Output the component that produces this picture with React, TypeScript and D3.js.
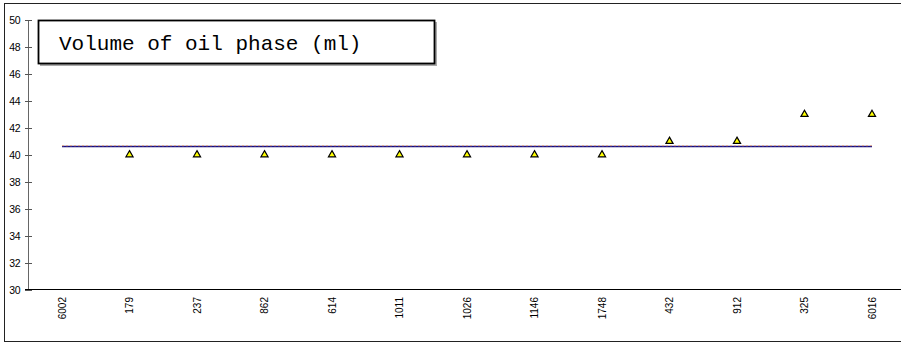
import React from "react";
import * as d3 from "d3";

const categories = ["6002", "179", "237", "862", "614", "1011", "1026", "1146", "1748", "432", "912", "325", "6016"];
const values: (number | null)[] = [null, 40, 40, 40, 40, 40, 40, 40, 40, 41, 41, 43, 43];
const yTicks = [30, 32, 34, 36, 38, 40, 42, 44, 46, 48, 50];
const title = "Volume of oil phase (ml)";

const SANS = "'Liberation Sans', Arial, Helvetica, sans-serif";
const MONO = "'Liberation Mono', 'Courier New', Courier, monospace";

export default function App() {
  const W = 901, H = 345;
  const x = d3.scaleBand<string>().domain(categories).range([28.25, 905.75]);
  const y = d3.scaleLinear().domain([30, 50]).range([289.5, 20]);
  const valid = values.filter((v) => v !== null) as number[];
  const mean = d3.mean(valid) as number;
  const cx = (c: string) => (x(c) as number) + x.bandwidth() / 2;
  const tri = d3.symbol().type(d3.symbolTriangle).size(22);
  const lineX1 = cx(categories[0]);
  const lineX2 = cx(categories[categories.length - 1]);
  const my = Math.round(y(mean)) + 0.5;
  return (
    <svg width={W} height={H} style={{ position: "absolute", left: 0, top: 0 }}>
      <rect x={0} y={0} width={W} height={H} fill="#fff" />
      <rect x={4.5} y={3.5} width={W + 10} height={338} fill="none" stroke="#222" strokeWidth={1} />
      {/* y axis */}
      <line x1={28.5} x2={28.5} y1={y(50)} y2={y(30)} stroke="#666" strokeWidth={1} />
      {yTicks.map((t) => (
        <g key={t}>
          <line x1={25} x2={32} y1={Math.round(y(t)) + 0.5} y2={Math.round(y(t)) + 0.5} stroke="#555" />
          <text x={20.5} y={y(t) + 4} textAnchor="end" style={{ fontFamily: SANS, fontSize: "10.5px", letterSpacing: "-0.2px" }} fill="#000">
            {t}
          </text>
        </g>
      ))}
      {/* x axis */}
      <line x1={25} x2={W} y1={289.5} y2={289.5} stroke="#000" strokeWidth={1.2} />
      {categories.map((c) => (
        <text
          key={c}
          transform={`translate(${cx(c) + 3.5},297) rotate(-90)`}
          textAnchor="end"
          style={{ fontFamily: SANS, fontSize: "10px" }}
          fill="#000"
        >
          {c}
        </text>
      ))}
      {/* mean line */}
      <line x1={lineX1} x2={lineX2} y1={my} y2={my} stroke="#1a1080" strokeWidth={1.3} />
      <line x1={lineX1} x2={lineX2} y1={my - 0.8} y2={my - 0.8} stroke="#e8a070" strokeWidth={0.8} strokeDasharray="2,2" />
      {/* markers */}
      {categories.map((c, i) =>
        values[i] === null ? null : (
          <path
            key={c}
            d={tri() as string}
            transform={`translate(${cx(c)},${y(values[i] as number)})`}
            fill="#ffff00"
            stroke="#000"
            strokeWidth={1.2}
          />
        )
      )}
      {/* title box */}
      <rect x={40} y={22} width={397} height={44} fill="#aaa" />
      <rect x={38.5} y={20.5} width={396} height={43} fill="#fff" stroke="#000" strokeWidth={1.8} />
      <text x={59} y={50} style={{ fontFamily: MONO, fontSize: "21px" }} fill="#000">
        {title}
      </text>
    </svg>
  );
}
